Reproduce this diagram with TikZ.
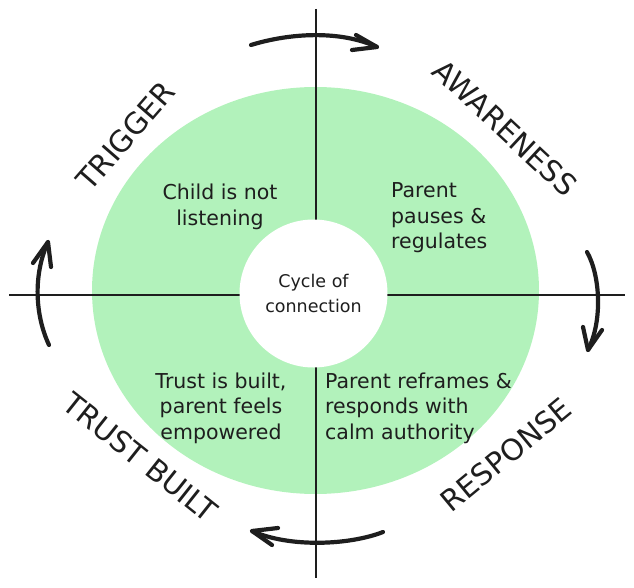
\documentclass[tikz,border=0pt]{standalone}
\usepackage{fontspec}
\setmainfont{DejaVu Sans}
\definecolor{ringgreen}{HTML}{B2F2BB}
\definecolor{ink}{HTML}{1E1E1E}
\tikzset{
  axisline/.style={draw=ink, line width=2pt},
  cyclearrow/.style={draw=ink, line width=4.2pt, line cap=round, line join=round},
  bodytext/.style={font=\fontsize{20.5}{25.5}\selectfont, text=ink, inner sep=0pt},
  phase/.style={font=\fontsize{29.5}{34}\selectfont, text=ink, inner sep=0pt},
}
\begin{document}
\begin{tikzpicture}[x=1pt,y=-1pt]
\useasboundingbox (0,0) rectangle (634,588);
% green ring
\fill[ringgreen] (315.5,290.5) ellipse [x radius=223.5, y radius=203.5];
% axes
\coordinate (vt) at (316,9);
\coordinate (vb) at (316,578);
\coordinate (hl) at (9,295);
\coordinate (hr) at (625,295);
\draw[axisline] (vt) -- (vb);
\draw[axisline] (hl) -- (hr);
% centre
\node[circle, fill=white, minimum size=148pt, inner sep=0pt, align=center,
      font=\fontsize{17.5}{25}\selectfont, text=ink] (core) at (313.5,293.5) {Cycle of\\connection};
% quadrant texts
\node[bodytext, align=center] (trigtxt) at (220,207) {Child is not\\listening};
\node[bodytext, align=left, anchor=west] (awtxt) at (391,218) {Parent\\pauses \&\\regulates};
\node[bodytext, align=center] (trusttxt) at (221,408) {Trust is built,\\parent feels\\empowered};
\node[bodytext, align=left, anchor=west] (resptxt) at (325,408) {Parent reframes \&\\responds with\\calm authority};
% phase labels
\node[phase, rotate=49] (trigger) at (126,136) {TRIGGER};
\node[phase, rotate=-43] (awareness) at (505,128) {AWARENESS};
\node[phase, rotate=-38.5] (trust) at (140,457) {TRUST BUILT};
\node[phase, rotate=39.5] (response) at (506,455) {RESPONSE};
% top arrow
\coordinate (ta) at (251,45); \coordinate (tb) at (377,47);
\coordinate (tw1) at (356,35); \coordinate (tw2) at (352,50);
\draw[cyclearrow] (ta) .. controls (290,33) and (340,30) .. (tb);
\draw[cyclearrow] (tw1) -- (tb) -- (tw2);
% right arrow
\coordinate (ra) at (587,252); \coordinate (rb) at (588,350);
\coordinate (rw1) at (583,327); \coordinate (rw2) at (602,330);
\draw[cyclearrow] (ra) .. controls (600,275) and (603,320) .. (rb);
\draw[cyclearrow] (rw1) -- (rb) -- (rw2);
% bottom arrow
\coordinate (ba) at (383,532); \coordinate (bb) at (252,531);
\coordinate (bw1) at (278,528); \coordinate (bw2) at (272,545);
\draw[cyclearrow] (ba) .. controls (350,545) and (290,548) .. (bb);
\draw[cyclearrow] (bw1) -- (bb) -- (bw2);
% left arrow
\coordinate (la) at (49,345); \coordinate (lb) at (48,242);
\coordinate (lw1) at (33,263); \coordinate (lw2) at (51,267);
\draw[cyclearrow] (la) .. controls (35,315) and (33,275) .. (lb);
\draw[cyclearrow] (lw1) -- (lb) -- (lw2);
\end{tikzpicture}
\end{document}
